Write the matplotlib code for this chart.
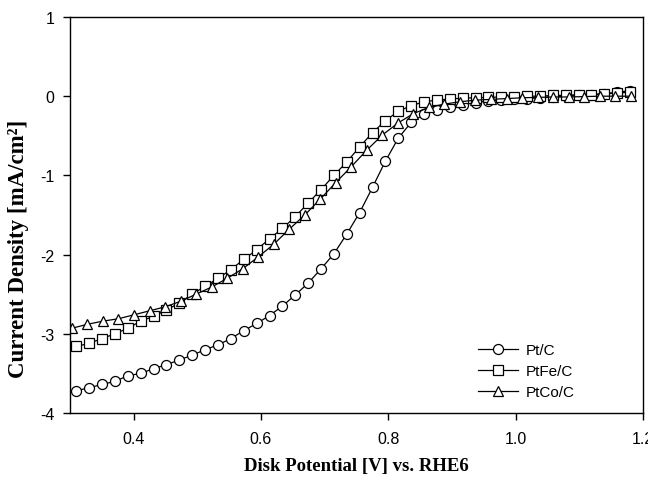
import numpy as np
import matplotlib
matplotlib.use("Agg")
import matplotlib.pyplot as plt

# Data
x_ptc = np.linspace(0.31, 1.18, 44)
y_ptc = [-3.72, -3.68, -3.64, -3.60, -3.53, -3.50, -3.44, -3.39, -3.33, -3.27,
         -3.20, -3.14, -3.06, -2.96, -2.87, -2.77, -2.65, -2.51, -2.36, -2.18,
         -1.99, -1.74, -1.47, -1.15, -0.82, -0.53, -0.33, -0.23, -0.18, -0.14,
         -0.11, -0.08, -0.06, -0.05, -0.04, -0.03, -0.02, -0.01, 0.00, 0.01,
         0.02, 0.03, 0.05, 0.07]

x_ptfe = np.linspace(0.31, 1.18, 44)
y_ptfe = [-3.16, -3.12, -3.06, -3.00, -2.93, -2.84, -2.78, -2.70, -2.61, -2.50,
          -2.40, -2.30, -2.19, -2.06, -1.94, -1.80, -1.67, -1.52, -1.35, -1.18,
          -1.00, -0.83, -0.64, -0.46, -0.31, -0.19, -0.12, -0.07, -0.05, -0.035,
          -0.025, -0.02, -0.015, -0.01, -0.005, 0.00, 0.00, 0.01, 0.01, 0.02,
          0.02, 0.03, 0.04, 0.05]

x_ptco = np.linspace(0.303, 1.181, 37)
y_ptco = [-2.93, -2.88, -2.84, -2.81, -2.76, -2.71, -2.66, -2.59, -2.50, -2.41,
          -2.30, -2.18, -2.03, -1.87, -1.68, -1.50, -1.30, -1.09, -0.89, -0.68,
          -0.49, -0.34, -0.22, -0.14, -0.10, -0.07, -0.05, -0.04, -0.03, -0.02,
          -0.015, -0.01, -0.01, -0.005, 0.00, 0.00, 0.00]

labels = ["Pt/C", "PtFe/C", "PtCo/C"]
xticks = [0.4, 0.6, 0.8, 1.0, 1.2]
yticks = [-4, -3, -2, -1, 0, 1]

fig = plt.figure(figsize=(6.48, 4.81), dpi=100)
ax = fig.add_axes([0.108, 0.1393, 0.884, 0.8233])

common = dict(color="black", linewidth=0.9, markersize=7.2, markerfacecolor="white",
              markeredgecolor="black", markeredgewidth=0.9)
ax.plot(x_ptc, y_ptc, marker="o", label=labels[0], **common)
ax.plot(x_ptfe, y_ptfe, marker="s", label=labels[1], **dict(common, markersize=6.8))
ax.plot(x_ptco, y_ptco, marker="^", label=labels[2], **dict(common, markersize=7.5))

ax.set_xlim(0.3, 1.2)
ax.set_ylim(-4, 1)
ax.set_xticks(xticks)
ax.set_xticklabels(["0.4", "0.6", "0.8", "1.0", "1.2"])
ax.set_yticks(yticks)
ax.set_yticklabels(["-4", "-3", "-2", "-1", "0", "1"])

for s in ax.spines.values():
    s.set_linewidth(1.0)
ax.tick_params(axis="both", direction="out", length=5, width=1.0,
               labelsize=11.5, top=False, right=False)
for lab in ax.get_xticklabels() + ax.get_yticklabels():
    lab.set_fontfamily("Liberation Sans")
ax.tick_params(axis="x", pad=8)
ax.tick_params(axis="y", pad=6)

ax.set_xlabel("Disk Potential [V] vs. RHE6", fontfamily="Liberation Serif",
              fontweight="bold", fontsize=13.5, labelpad=8)
ax.set_ylabel("Current Density [mA/cm²]", fontfamily="Liberation Serif",
              fontweight="bold", fontsize=16.5)
ax.yaxis.set_label_coords(-0.072, 0.417)

leg = ax.legend(loc="lower right", bbox_to_anchor=(0.905, 0.0), frameon=False,
                prop={"family": "Liberation Sans", "size": 11},
                handlelength=2.6, labelspacing=0.45, handletextpad=0.5)

fig.savefig("out.png", dpi=100)
